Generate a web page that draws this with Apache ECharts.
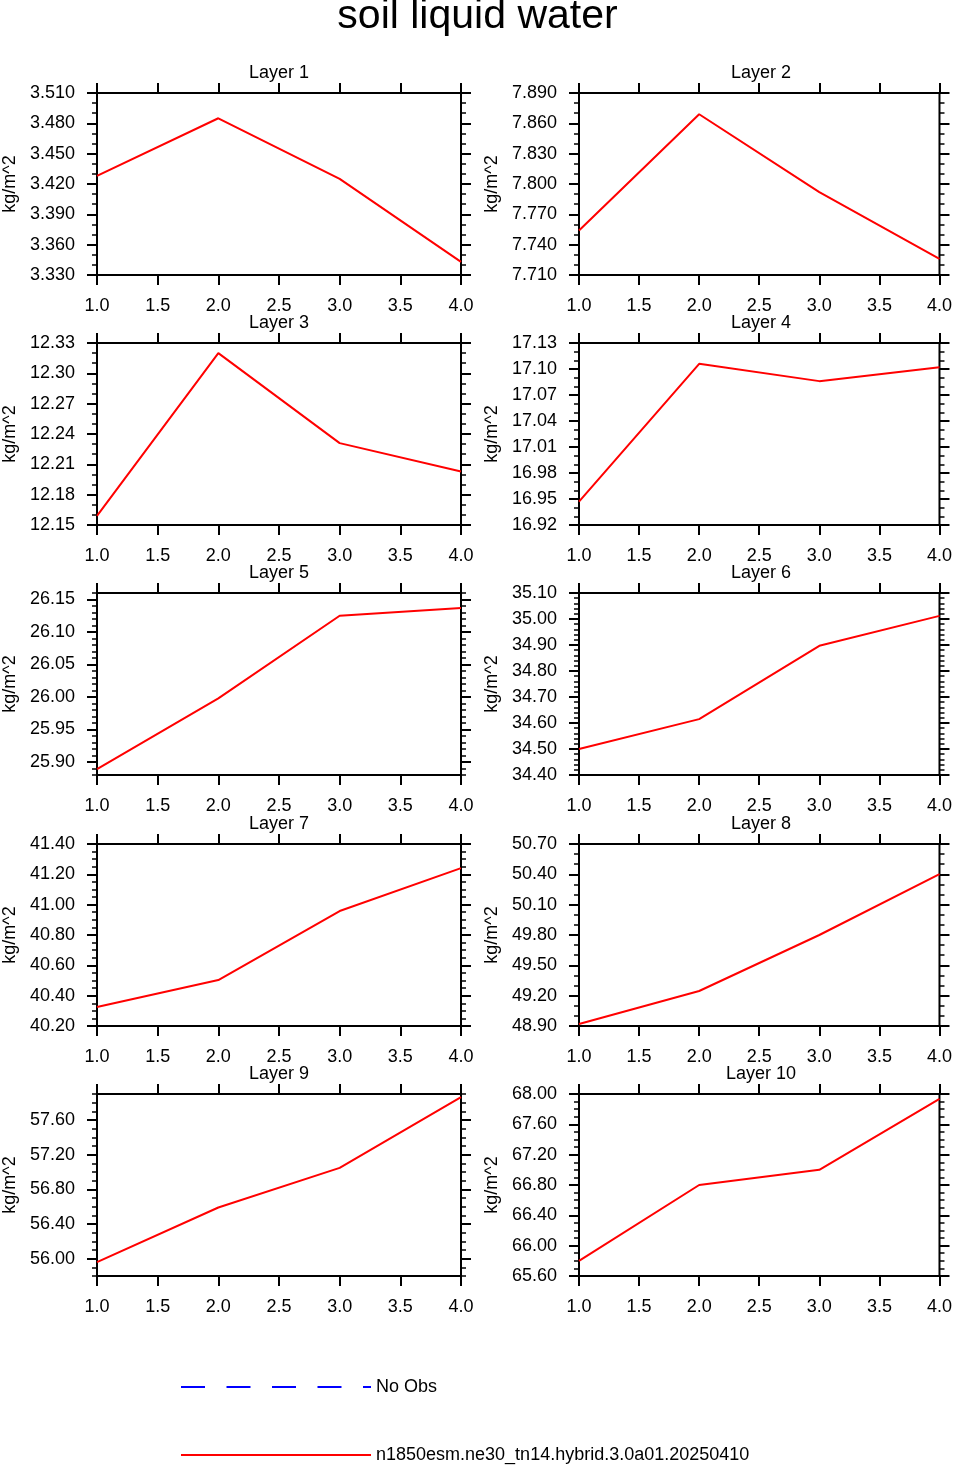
<!DOCTYPE html>
<html>
<head>
<meta charset="utf-8">
<title>soil liquid water</title>
<script src="https://cdn.jsdelivr.net/npm/echarts@6/dist/echarts.min.js"></script>
<style>
  html, body { margin: 0; padding: 0; background: #fff; }
  #main { width: 955px; height: 1467px; }
</style>
</head>
<body>
<div id="main"></div>
<script>
// x values (time index) and x tick labels
var years = [1, 2, 3, 4];
var xLabels = ['1.0', '1.5', '2.0', '2.5', '3.0', '3.5', '4.0'];

var modelName = 'n1850esm.ne30_tn14.hybrid.3.0a01.20250410';
var obsName = 'No Obs';

// soil liquid water per layer (kg/m^2)
var layer1 = [3.428, 3.485, 3.425, 3.343];
var layer2 = [7.754, 7.869, 7.792, 7.726];
var layer3 = [12.159, 12.320, 12.231, 12.203];
var layer4 = [16.947, 17.106, 17.086, 17.102];
var layer5 = [25.889, 25.998, 26.125, 26.137];
var layer6 = [34.500, 34.615, 34.897, 35.012];
var layer7 = [40.325, 40.503, 40.958, 41.241];
var layer8 = [48.920, 49.246, 49.800, 50.403];
var layer9 = [55.960, 56.590, 57.048, 57.863];
var layer10 = [65.800, 66.800, 67.000, 67.935];

// y tick labels per layer
var yLabels1 = ['3.330', '3.360', '3.390', '3.420', '3.450', '3.480', '3.510'];
var yLabels2 = ['7.710', '7.740', '7.770', '7.800', '7.830', '7.860', '7.890'];
var yLabels3 = ['12.15', '12.18', '12.21', '12.24', '12.27', '12.30', '12.33'];
var yLabels4 = ['16.92', '16.95', '16.98', '17.01', '17.04', '17.07', '17.10', '17.13'];
var yLabels5 = ['25.90', '25.95', '26.00', '26.05', '26.10', '26.15'];
var yLabels6 = ['34.40', '34.50', '34.60', '34.70', '34.80', '34.90', '35.00', '35.10'];
var yLabels7 = ['40.20', '40.40', '40.60', '40.80', '41.00', '41.20', '41.40'];
var yLabels8 = ['48.90', '49.20', '49.50', '49.80', '50.10', '50.40', '50.70'];
var yLabels9 = ['56.00', '56.40', '56.80', '57.20', '57.60'];
var yLabels10 = ['65.60', '66.00', '66.40', '66.80', '67.20', '67.60', '68.00'];

// axis ranges and minor tick step per layer
var yMin = [3.33, 7.71, 12.15, 16.92, 25.88, 34.40, 40.20, 48.90, 55.80, 65.60];
var yMax = [3.51, 7.89, 12.33, 17.13, 26.16, 35.10, 41.40, 50.70, 57.90, 68.00];
var minorStep = [0.01, 0.01, 0.01, 0.01, 0.01, 0.02, 0.05, 0.1, 0.1, 0.1];

var layers = [layer1, layer2, layer3, layer4, layer5, layer6, layer7, layer8, layer9, layer10];
var yLabels = [yLabels1, yLabels2, yLabels3, yLabels4, yLabels5, yLabels6, yLabels7, yLabels8, yLabels9, yLabels10];

var colLeft = [97, 579];
var rowTop = [93, 343, 593, 844, 1094];
var plotW = 364, plotH = 182;
var font = 'Liberation Sans, Arial, Helvetica, sans-serif';

function legendAt(name, y) {
    return {
        orient: 'vertical',
        left: 180,
        top: y,
        padding: 0,
        itemWidth: 190,
        itemHeight: 20,
        selectedMode: false,
        itemStyle: { opacity: 0 },
        data: [name],
        textStyle: { fontSize: 18, color: '#000', fontFamily: font }
    };
}

function buildOption() {
    var grids = [], xAxes = [], yAxes = [], series = [], titles = [];
    var xVals = xLabels.map(Number);

    titles.push({
        text: 'soil liquid water',
        left: 'center',
        top: -4,
        padding: 0,
        textStyle: { fontSize: 41, fontWeight: 'normal', color: '#000', fontFamily: font }
    });

    layers.forEach(function (vals, i) {
        var gx = colLeft[i % 2];
        var gy = rowTop[Math.floor(i / 2)];
        grids.push({
            left: gx, top: gy, width: plotW, height: plotH,
            show: true, borderColor: '#000', borderWidth: 2, backgroundColor: 'transparent'
        });
        titles.push({
            text: 'Layer ' + (i + 1),
            left: gx + plotW / 2,
            top: gy - 29,
            textAlign: 'center',
            padding: 0,
            textStyle: { fontSize: 18, fontWeight: 'normal', color: '#000', fontFamily: font }
        });

        // x axes: bottom with labels, top mirror
        ['bottom', 'top'].forEach(function (pos) {
            xAxes.push({
                type: 'value', gridIndex: i, position: pos, min: 1, max: 4,
                axisLine: { show: false },
                splitLine: { show: false },
                axisTick: { show: true, length: 10, customValues: xVals, lineStyle: { color: '#000', width: 2 } },
                axisLabel: {
                    show: pos === 'bottom', customValues: xVals, margin: 22,
                    fontSize: 18, color: '#000', fontFamily: font,
                    formatter: function (v) { return v.toFixed(1); }
                }
            });
        });

        var labs = yLabels[i];
        var dec = labs[0].split('.')[1].length;
        var majors = labs.map(Number);
        ['left', 'right'].forEach(function (pos) {
            // major ticks (+ labels on the left)
            yAxes.push({
                type: 'value', gridIndex: i, position: pos, min: yMin[i], max: yMax[i],
                name: pos === 'left' ? 'kg/m^2' : '',
                nameLocation: 'middle', nameGap: 78, nameRotate: 90,
                nameTextStyle: { fontSize: 18, color: '#000', fontFamily: font },
                axisLine: { show: false },
                splitLine: { show: false },
                axisTick: { show: true, length: 10, customValues: majors, lineStyle: { color: '#000', width: 2 } },
                axisLabel: {
                    show: pos === 'left', customValues: majors, margin: 22,
                    fontSize: 18, color: '#000', fontFamily: font,
                    formatter: function (v) { return v.toFixed(dec); }
                }
            });
            // minor ticks
            yAxes.push({
                type: 'value', gridIndex: i, position: pos, min: yMin[i], max: yMax[i],
                interval: minorStep[i],
                axisLine: { show: false },
                splitLine: { show: false },
                axisLabel: { show: false },
                axisTick: { show: true, length: 5, lineStyle: { color: '#000', width: 1.5 } }
            });
        });

        series.push({
            name: modelName,
            type: 'line',
            xAxisIndex: i * 2,
            yAxisIndex: i * 4,
            data: years.map(function (x, k) { return [x, vals[k]]; }),
            symbol: 'none',
            lineStyle: { color: '#ff0000', width: 2 },
            itemStyle: { color: '#ff0000' },
            z: 5
        });
    });

    // empty observation series (legend only)
    series.push({
        name: obsName,
        type: 'line',
        xAxisIndex: 0,
        yAxisIndex: 0,
        data: [],
        symbol: 'none',
        lineStyle: { color: '#0000ff', width: 1.5, type: [24, 21.5] },
        itemStyle: { color: '#0000ff' }
    });

    return {
        animation: false,
        backgroundColor: '#fff',
        textStyle: { fontFamily: font },
        title: titles,
        grid: grids,
        xAxis: xAxes,
        yAxis: yAxes,
        legend: [legendAt(obsName, 1378), legendAt(modelName, 1446)],
        series: series
    };
}

var chart = echarts.init(document.getElementById('main'));
chart.setOption(buildOption());
</script>
</body>
</html>
